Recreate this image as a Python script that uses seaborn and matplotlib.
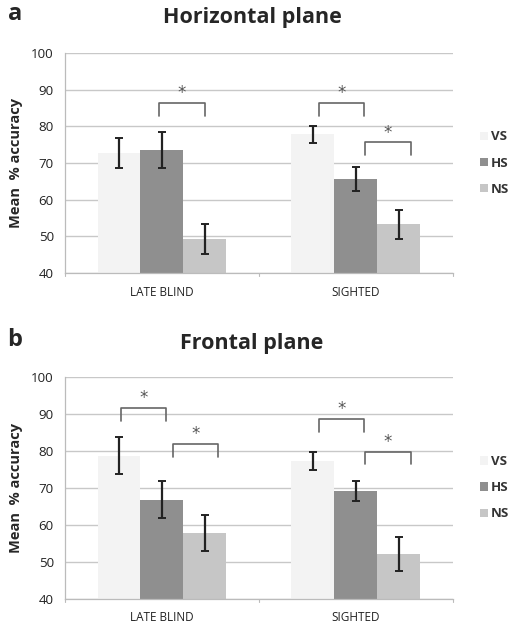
import matplotlib
matplotlib.use("Agg")
import matplotlib.pyplot as plt
import seaborn as sns
import pandas as pd
from matplotlib.patches import Patch

# ---- data ----
groups = ["LATE BLIND", "SIGHTED"]
conditions = ["VS", "HS", "NS"]
panel_titles = ["Horizontal plane", "Frontal plane"]
panel_letters = ["a", "b"]

horiz_mean = {"VS": [72.7, 77.8], "HS": [73.5, 65.7], "NS": [49.4, 53.3]}
horiz_err = {"VS": [4.1, 2.4], "HS": [4.9, 3.2], "NS": [4.1, 3.9]}
front_mean = {"VS": [78.7, 77.2], "HS": [66.7, 69.1], "NS": [57.8, 52.2]}
front_err = {"VS": [5.0, 2.5], "HS": [5.0, 2.8], "NS": [4.8, 4.6]}

# significance brackets: (x0, x1, top, leg bottom) in data units
horiz_brackets = [(-0.013, 0.221, 86.5, 82.9), (0.808, 1.042, 86.5, 82.9), (1.047, 1.283, 75.7, 72.2)]
front_brackets = [(-0.213, 0.021, 91.6, 88.1), (0.056, 0.289, 81.9, 78.4),
                  (0.808, 1.042, 88.6, 85.1), (1.047, 1.283, 79.8, 76.4)]

yticks = [40, 50, 60, 70, 80, 90, 100]
colors = {"VS": "#f3f3f3", "HS": "#8f8f8f", "NS": "#c6c6c6"}

sns.set_theme(style="white")
plt.rcParams["font.family"] = ["Open Sans", "DejaVu Sans"]

fig = plt.figure(figsize=(5.15, 6.32), dpi=100)
ax_a = fig.add_axes([0.126, 0.568, 0.753, 0.348])
ax_b = fig.add_axes([0.126, 0.0527, 0.753, 0.351])

def draw(ax, means, errs, brackets, title, letter, title_y, letter_y):
    rows = []
    for c in conditions:
        for g, m, e in zip(groups, means[c], errs[c]):
            rows.append({"group": g, "cond": c, "mean": m, "err": e})
    df = pd.DataFrame(rows)
    sns.barplot(data=df, x="group", y="mean", hue="cond", order=groups,
                hue_order=conditions, palette=colors, width=0.663,
                errorbar=None, ax=ax, legend=False, linewidth=0, saturation=1)
    ax.set_zorder(1)
    for cont, c in zip(ax.containers, conditions):
        xs = [p.get_x() + p.get_width() / 2 for p in cont.patches]
        ax.errorbar(xs, means[c], yerr=errs[c], fmt="none", ecolor="#222222",
                    elinewidth=1.6, capsize=3, capthick=1.4, zorder=4)
    for x0, x1, top, bot in brackets:
        ax.plot([x0, x0, x1, x1], [bot, top, top, bot], color="#666666", lw=1.2,
                zorder=4, clip_on=False)
        ax.text((x0 + x1) / 2, top + 2.6, "*", ha="center", va="center",
                fontsize=12, color="#555555", zorder=4, family="DejaVu Sans")
    ax.set_ylim(40, 100)
    ax.set_xlim(-0.5, 1.5)
    ax.set_yticks(yticks)
    ax.set_yticklabels([str(t) for t in yticks], fontsize=9.6, color="#222222")
    ax.yaxis.grid(True, color="#c8c8c8", lw=1)
    ax.set_axisbelow(True)
    ax.set_xticks([0, 1])
    ax.set_xticklabels(groups, fontsize=8.5, color="#222222")
    ax.tick_params(axis="x", length=0, pad=9)
    ax.tick_params(axis="y", length=4, width=0.8, color="#bbbbbb", direction="out", pad=4)
    for x in [-0.5, 0.5, 1.5]:
        ax.plot([x, x], [40, 39.2], color="#bbbbbb", lw=0.8, clip_on=False)
    for s in ["top", "right"]:
        ax.spines[s].set_visible(False)
    for s in ["left", "bottom"]:
        ax.spines[s].set_color("#bbbbbb")
        ax.spines[s].set_linewidth(0.9)
    ax.set_xlabel("")
    ax.set_ylabel("Mean  % accuracy", fontsize=10.5, fontweight="bold", labelpad=6)
    fig.text(252 / 515, title_y, title, ha="center", va="center",
             fontsize=15.5, fontweight="bold")
    fig.text(15 / 515, letter_y, letter, ha="center", va="center",
             fontsize=17, fontweight="bold")
    handles = [Patch(facecolor=colors[c], edgecolor="none", label=c) for c in conditions]
    ax.legend(handles=handles, loc="center left", bbox_to_anchor=(1.04, 0.5),
              frameon=False, handlelength=0.6, handleheight=0.6, handletextpad=0.2,
              labelspacing=1.0, prop={"family": "Open Sans", "weight": "bold", "size": 9.5},
              labelcolor="#333333")

draw(ax_a, horiz_mean, horiz_err, horiz_brackets, panel_titles[0], panel_letters[0],
     1 - 18 / 632, 1 - 14 / 632)
draw(ax_b, front_mean, front_err, front_brackets, panel_titles[1], panel_letters[1],
     1 - 343 / 632, 1 - 340 / 632)

fig.savefig("out.png", dpi=100)
